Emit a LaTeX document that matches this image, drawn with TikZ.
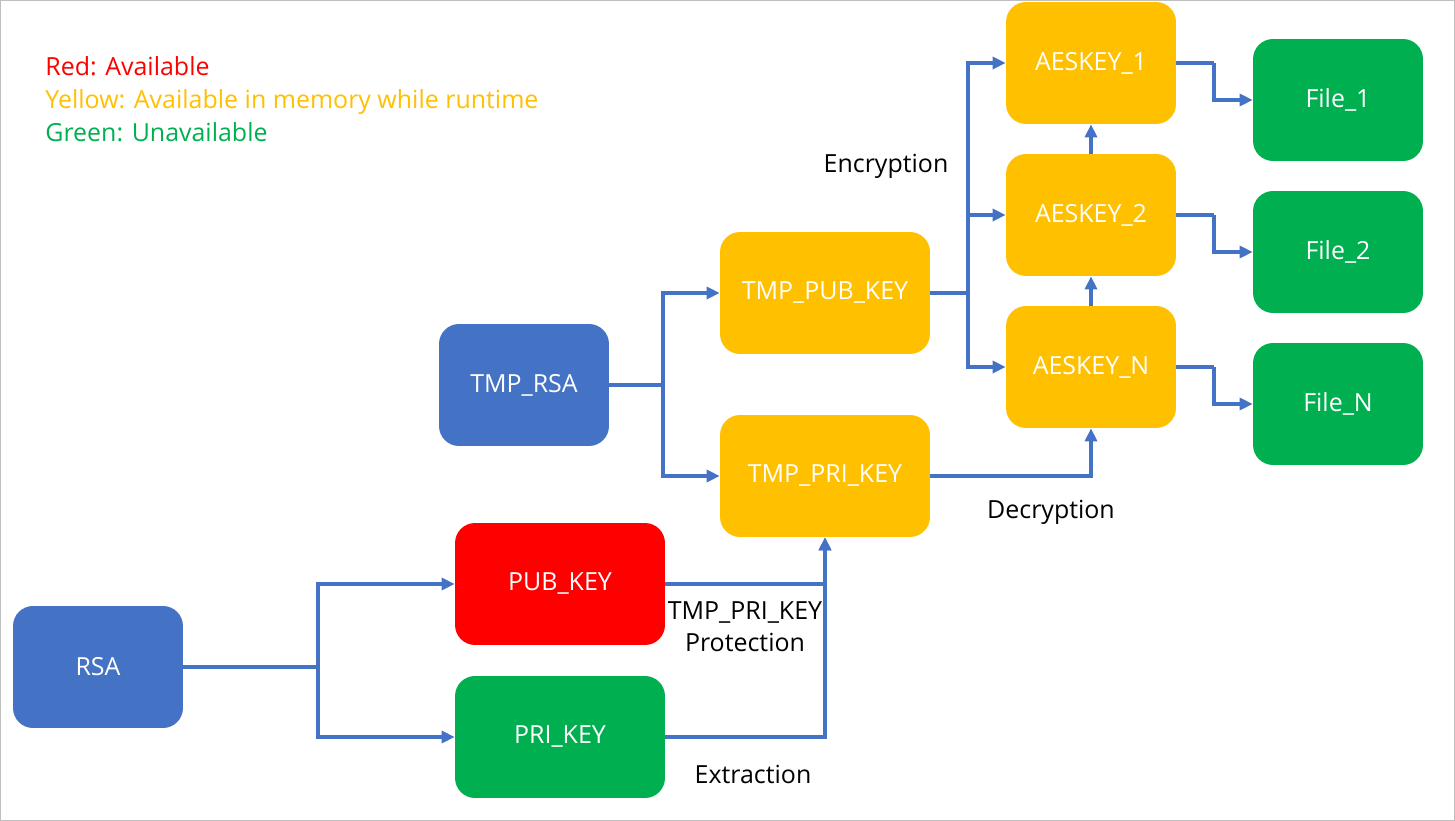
\documentclass[tikz,border=0pt]{standalone}
\usepackage{fontspec}
\setmainfont{Open Sans}
\usetikzlibrary{arrows.meta}
\definecolor{cblue}{HTML}{4472C4}
\definecolor{cyellow}{HTML}{FFC000}
\definecolor{cgreen}{HTML}{00B050}
\definecolor{cred}{HTML}{FF0000}
\begin{document}
\begin{tikzpicture}[x=0.02cm,y=-0.02cm,
  font=\fontsize{14.2}{17}\selectfont,
  box/.style={rounded corners=0.4cm,text=white,minimum width=3.4cm,minimum height=2.44cm,inner sep=0pt},
  wbox/.style={box,minimum width=4.2cm},
  conn/.style={draw=cblue,line width=2.2pt,-{Triangle[length=0.26cm,width=0.24cm]}},
  plain/.style={draw=cblue,line width=2.2pt},
  leg/.style={anchor=base west,inner sep=0pt},
  lbl/.style={text=black,align=center,inner sep=0pt}]
\useasboundingbox (0,0) rectangle (1455,821);
\draw[gray!50,line width=0.8pt] (0.5,0.5) rectangle (1454.5,820.5);
% legend
\node[leg,text=cred] (l1) at (45,76) {Red: Available};
\node[leg,text=cyellow] (l2) at (45,109) {Yellow: Available in memory while runtime};
\node[leg,text=cgreen] (l3) at (45,142) {Green: Unavailable};
% nodes
\node[box,fill=cblue] (rsa) at (98,667) {RSA};
\node[wbox,fill=cred] (pub) at (560,584) {PUB\_KEY};
\node[wbox,fill=cgreen] (pri) at (560,737) {PRI\_KEY};
\node[box,fill=cblue] (tmprsa) at (524,385) {TMP\_RSA};
\node[wbox,fill=cyellow] (tmppub) at (825,293) {TMP\_PUB\_KEY};
\node[wbox,fill=cyellow] (tmppri) at (825,476) {TMP\_PRI\_KEY};
\node[box,fill=cyellow] (a1) at (1091,63) {AESKEY\_1};
\node[box,fill=cyellow] (a2) at (1091,215) {AESKEY\_2};
\node[box,fill=cyellow] (an) at (1091,367) {AESKEY\_N};
\node[box,fill=cgreen] (f1) at (1338,100) {File\_1};
\node[box,fill=cgreen] (f2) at (1338,252) {File\_2};
\node[box,fill=cgreen] (fn) at (1338,404) {File\_N};
% junctions
\coordinate (j1) at (318,667);
\coordinate (j2) at (663,385);
\coordinate (j3) at (968,293);
\coordinate (k1) at (1214,63);
\coordinate (k2) at (1214,215);
\coordinate (kn) at (1214,367);
% connectors
\draw[plain] (rsa.east) -- (j1);
\draw[conn] (j1) |- (pub.west);
\draw[conn] (j1) |- (pri.west);
\draw[conn] (pub.east) -| (tmppri.south);
\draw[conn] (pri.east) -| (tmppri.south);
\draw[plain] (tmprsa.east) -- (j2);
\draw[conn] (j2) |- (tmppub.west);
\draw[conn] (j2) |- (tmppri.west);
\draw[plain] (tmppub.east) -- (j3);
\draw[conn] (j3) |- (a1.west);
\draw[conn] (j3) |- (a2.west);
\draw[conn] (j3) |- (an.west);
\draw[conn] (tmppri.east) -| (an.south);
\draw[conn] (an.north) -- (a2.south);
\draw[conn] (a2.north) -- (a1.south);
\draw[plain] (a1.east) -- (k1);
\draw[conn] (k1) |- (f1.west);
\draw[plain] (a2.east) -- (k2);
\draw[conn] (k2) |- (f2.west);
\draw[plain] (an.east) -- (kn);
\draw[conn] (kn) |- (fn.west);
% labels
\node[lbl] (enc) at (886,166) {Encryption};
\node[lbl] (dec) at (1051,512) {Decryption};
\node[lbl] (prot) at (745,627) {TMP\_PRI\_KEY\\[1pt]Protection};
\node[lbl] (ext) at (753,774) {Extraction};
\end{tikzpicture}
\end{document}
